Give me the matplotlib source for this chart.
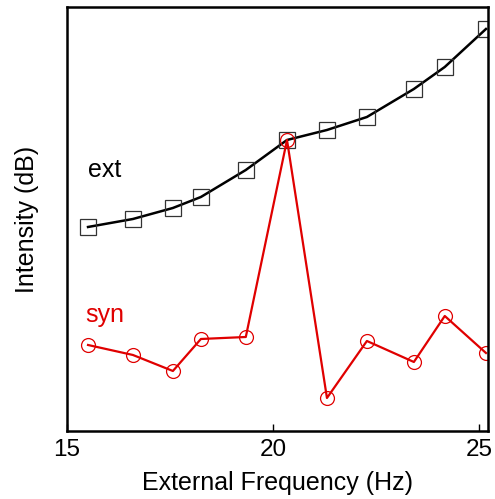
import matplotlib
matplotlib.use("Agg")
from matplotlib import pyplot as plt

plt.rcParams['font.family'] = ['Liberation Sans', 'DejaVu Sans']

# external frequency (Hz)
freq = [15.51, 16.60, 17.57, 18.25, 19.34, 20.34, 21.31, 22.28, 23.42, 24.17, 25.17]
# intensity, arbitrary dB scale (no y ticks in the original)
ext = [204, 212, 223, 234, 261, 291, 301, 314, 342, 364, 402]
syn = [86, 76, 60, 92, 94, 291, 33, 90, 69, 115, 78]

xticks = [15, 20, 25]

fig = plt.figure(figsize=(4.95, 4.99), dpi=100)
ax = fig.add_axes([0.1354, 0.1363, 0.8505, 0.8497])

ax.plot(freq, ext, color='black', lw=1.8, marker='s', ms=11.5,
        mfc='none', mec='#333333', mew=0.9)
ax.plot(freq, syn, color='#e00000', lw=1.6, marker='o', ms=10,
        mfc='none', mec='#e00000', mew=0.9)

ax.text(15.51, 261, 'ext', fontsize=18, color='black', va='center', ha='left')
ax.text(15.45, 116, 'syn', fontsize=18, color='#e00000', va='center', ha='left')

ax.set_xlim(15, 25.22)
ax.set_ylim(0, 424)
ax.set_xticks(xticks)
ax.set_yticks([])
ax.tick_params(axis='x', direction='in', length=5, width=1, labelsize=17.5, pad=6)

for s in ax.spines.values():
    s.set_linewidth(1.8)

ax.set_xlabel('External Frequency (Hz)', fontsize=18, labelpad=7)
ax.set_ylabel('Intensity (dB)', fontsize=18, labelpad=20)

fig.savefig('out.png', dpi=100)
